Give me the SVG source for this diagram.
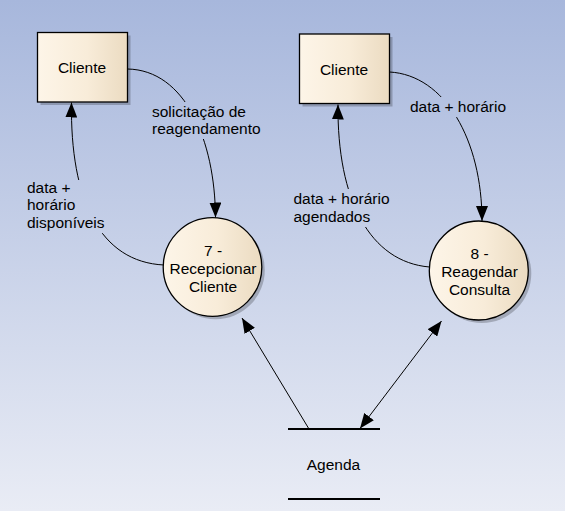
<svg xmlns="http://www.w3.org/2000/svg" width="565" height="511" viewBox="0 0 565 511">
<defs>
<linearGradient id="bg" gradientUnits="userSpaceOnUse" x1="0" y1="0" x2="0" y2="511">
<stop offset="0" stop-color="#a7b7dc"/>
<stop offset="1" stop-color="#e9ecf5"/>
</linearGradient>
<linearGradient id="nodefill" x1="0" y1="0" x2="1" y2="0">
<stop offset="0" stop-color="#fdf5e8"/>
<stop offset="0.55" stop-color="#f8ecd9"/>
<stop offset="1" stop-color="#ebdbc1"/>
</linearGradient>
<marker id="arr" viewBox="0 0 15 12" refX="15" refY="6" markerWidth="15" markerHeight="12" markerUnits="userSpaceOnUse" orient="auto-start-reverse">
<path d="M0,0 L15,6 L0,12 z" fill="#000"/>
</marker>
</defs>
<style>
.txt{font-family:"Liberation Sans",Arial,sans-serif;font-size:15.5px;fill:#000}
.mid{text-anchor:middle}
.node{fill:url(#nodefill);stroke:#000;stroke-width:1.3}
.shadow{fill:#000;opacity:0.22}
.conn{fill:none;stroke:#000;stroke-width:1}
.lblbg{fill:url(#bg)}
.store{stroke:#000;stroke-width:2}
</style>
<rect x="0" y="0" width="565" height="511" fill="url(#bg)"/>

<g id="connectors">
<path class="conn" d="M127.5,69 C185,70 215,140 215.5,217.5" marker-end="url(#arr)"/>
<path class="conn" d="M164,265 C100,262 70,200 71.5,102.5" marker-end="url(#arr)"/>
<path class="conn" d="M389.5,72 C445,75 482,140 482,221" marker-end="url(#arr)"/>
<path class="conn" d="M429.5,267 C370,262 337,200 338,104.5" marker-end="url(#arr)"/>
<path class="conn" d="M309,429 L242,318" marker-end="url(#arr)"/>
<path class="conn" d="M360,428.5 L441.5,321" marker-start="url(#arr)" marker-end="url(#arr)"/>
<g id="label-solicitacao">
<rect class="lblbg" x="149" y="102" width="100" height="37"/>
<text class="txt" x="152" y="116.5">solicitação de</text>
<text class="txt" x="152" y="134">reagendamento</text>
</g>
<g id="label-disponiveis">
<rect class="lblbg" x="25" y="180" width="83" height="53"/>
<text class="txt" x="27" y="192.5">data +</text>
<text class="txt" x="27" y="210">horário</text>
<text class="txt" x="27" y="227.5">disponíveis</text>
</g>
<g id="label-datahorario">
<rect class="lblbg" x="408" y="97" width="102" height="20"/>
<text class="txt" x="410" y="111.5">data + horário</text>
</g>
<g id="label-agendados">
<rect class="lblbg" x="291" y="189" width="102" height="38"/>
<text class="txt" x="293.5" y="204">data + horário</text>
<text class="txt" x="293.5" y="221.5">agendados</text>
</g>
</g>

<g id="cliente1">
<rect class="shadow" x="40.5" y="35.5" width="90" height="69.5"/>
<rect class="node" x="37.5" y="32.5" width="90" height="69.5"/>
<text class="txt mid" x="82" y="72.5">Cliente</text>
</g>

<g id="cliente2">
<rect class="shadow" x="302.5" y="37" width="90" height="69.5"/>
<rect class="node" x="299.5" y="34" width="90" height="69.5"/>
<text class="txt mid" x="344" y="74.5">Cliente</text>
</g>

<g id="processo7">
<circle class="shadow" cx="215.5" cy="270" r="49.3"/>
<circle class="node" cx="212.5" cy="267" r="49.3"/>
<text class="txt mid" x="213" y="256">7 -</text>
<text class="txt mid" x="213" y="274">Recepcionar</text>
<text class="txt mid" x="213" y="291.5">Cliente</text>
</g>

<g id="processo8">
<circle class="shadow" cx="481.8" cy="273.5" r="49.5"/>
<circle class="node" cx="478.8" cy="270.5" r="49.5"/>
<text class="txt mid" x="479.5" y="259">8 -</text>
<text class="txt mid" x="479.5" y="277">Reagendar</text>
<text class="txt mid" x="479.5" y="294.5">Consulta</text>
</g>

<g id="agenda">
<line class="store" x1="288" y1="429" x2="380" y2="429"/>
<line class="store" x1="288" y1="499" x2="380" y2="499"/>
<text class="txt mid" x="333.5" y="470">Agenda</text>
</g>
</svg>
